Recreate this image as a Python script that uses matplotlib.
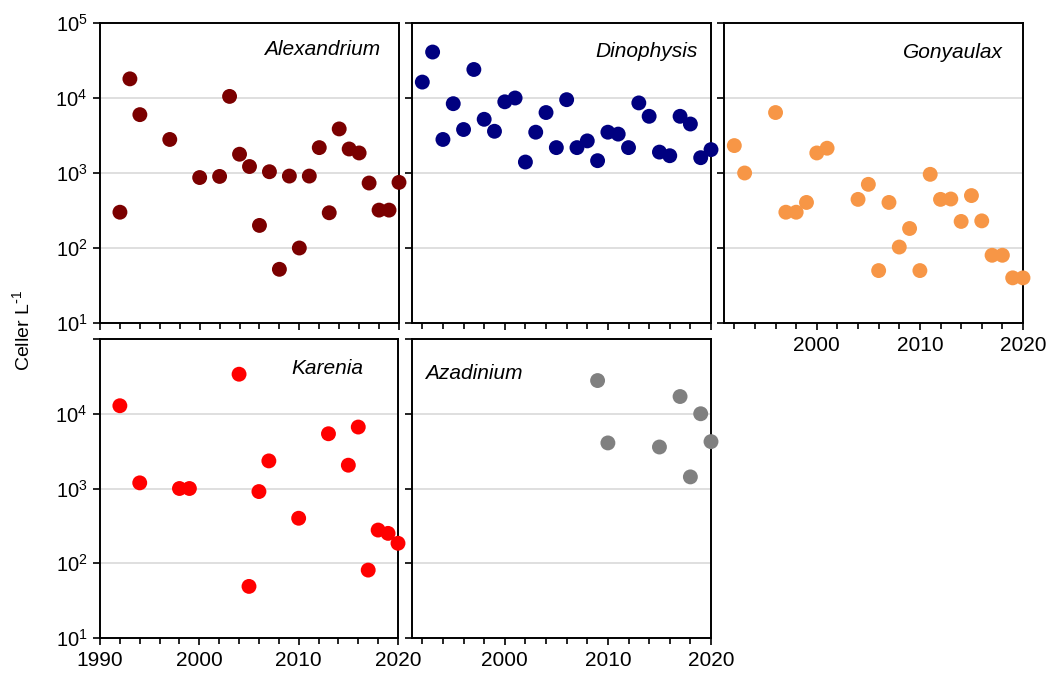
import matplotlib
matplotlib.use("Agg")
import matplotlib.pyplot as plt
from matplotlib.ticker import FixedLocator, MultipleLocator, NullFormatter, FuncFormatter

plt.rcParams['font.family'] = ['Liberation Sans', 'DejaVu Sans']
plt.rcParams['mathtext.default'] = 'regular'

# --- Data (cells per litre, annual maxima) ---
alex_years = [1992, 1993, 1994, 1997, 2000, 2002, 2003, 2004, 2005, 2006, 2007, 2008,
              2009, 2010, 2011, 2012, 2013, 2014, 2015, 2016, 2017, 2018, 2019, 2020]
alex_vals = [300, 18000, 6000, 2800, 870, 900, 10500, 1780, 1220, 200, 1040, 52,
             910, 100, 910, 2180, 295, 3870, 2090, 1850, 735, 320, 320, 750]

dino_years = [1992, 1993, 1994, 1995, 1996, 1997, 1998, 1999, 2000, 2001, 2002, 2003,
              2004, 2005, 2006, 2007, 2008, 2009, 2010, 2011, 2012, 2013, 2014, 2015,
              2016, 2017, 2018, 2019, 2020]
dino_vals = [16300, 41000, 2800, 8400, 3800, 24000, 5200, 3600, 8900, 10000, 1400, 3500,
             6400, 2180, 9500, 2180, 2680, 1460, 3500, 3300, 2180, 8600, 5700, 1900,
             1700, 5700, 4500, 1600, 2050]

gony_years = [1992, 1993, 1996, 1997, 1998, 1999, 2000, 2001, 2004, 2005, 2006, 2007,
              2008, 2009, 2010, 2011, 2012, 2013, 2014, 2015, 2016, 2017, 2018, 2019, 2020]
gony_vals = [2320, 1000, 6400, 300, 300, 405, 1850, 2140, 445, 706, 50, 405,
             103, 182, 50, 960, 445, 450, 226, 500, 230, 80, 80, 40, 40]

kare_years = [1992, 1994, 1998, 1999, 2004, 2005, 2006, 2007, 2010, 2013, 2015, 2016,
              2017, 2018, 2019, 2020]
kare_vals = [12800, 1190, 1000, 1000, 33800, 49, 910, 2340, 400, 5400, 2050, 6640,
             81, 278, 251, 185]

azad_years = [2009, 2010, 2015, 2017, 2018, 2019, 2020]
azad_vals = [27800, 4070, 3590, 17000, 1430, 10000, 4240]

W, H = 1047, 675
fig = plt.figure(figsize=(W / 100, H / 100), dpi=100)


def add_panel(x0, y0, x1, y1):
    return fig.add_axes([x0 / W, 1 - y1 / H, (x1 - x0) / W, (y1 - y0) / H])


panels = [
    # name, years, values, colour, pixel box, xlim start, label (x, y, ha), x labels, y labels
    ("Alexandrium", alex_years, alex_vals, "#7B0000", (100, 23, 399, 323), 1990,
     (0.936, 0.913, 'right'), False, [1, 2, 3, 4, 5]),
    ("Dinophysis", dino_years, dino_vals, "#000080", (412, 23, 711, 323), 1991,
     (0.957, 0.905, 'right'), False, None),
    ("Gonyaulax", gony_years, gony_vals, "#F79646", (724, 23, 1023, 323), 1991,
     (0.933, 0.90, 'right'), True, None),
    ("Karenia", kare_years, kare_vals, "#FF0000", (100, 339, 398, 638), 1990,
     (0.883, 0.903, 'right'), True, [1, 2, 3, 4]),
    ("Azadinium", azad_years, azad_vals, "#808080", (412, 339, 711, 638), 1991,
     (0.043, 0.886, 'left'), True, None),
]

for name, yrs, vals, col, box, xstart, lbl, xlab, ylab in panels:
    ax = add_panel(*box)
    ax.set_yscale('log')
    ax.set_ylim(10, 1e5)
    ax.set_xlim(xstart, 2020)
    ax.scatter(yrs, vals, s=115, color=col, edgecolors='none', zorder=5, clip_on=False)

    ax.set_yticks([10, 100, 1e3, 1e4, 1e5])
    ax.yaxis.set_minor_locator(FixedLocator([]))
    if ylab:
        ax.set_yticklabels([r'$10^{%d}$' % e if e in ylab else '' for e in [1, 2, 3, 4, 5]])
    else:
        ax.set_yticklabels([])
    ax.grid(axis='y', which='major', color='#D9D9D9', linewidth=1.2, zorder=0)

    ax.xaxis.set_major_locator(MultipleLocator(10))
    ax.xaxis.set_minor_locator(MultipleLocator(2))
    if xlab:
        ax.xaxis.set_major_formatter(FuncFormatter(lambda v, p: '%d' % v))
    else:
        ax.xaxis.set_major_formatter(NullFormatter())

    ax.tick_params(axis='both', which='both', direction='out', width=1.2, pad=4)
    ax.tick_params(axis='x', labelsize=15)
    ax.tick_params(axis='y', labelsize=14.5)
    ax.tick_params(axis='both', which='major', length=5)
    ax.tick_params(axis='x', which='minor', length=4)
    for sp in ax.spines.values():
        sp.set_linewidth(1.4)
        sp.set_color('black')
    ax.set_axisbelow(True)

    ax.text(lbl[0], lbl[1], name, transform=ax.transAxes, ha=lbl[2], va='center',
            fontsize=15, style='italic')

fig.text(22 / W, 1 - 330 / H, r'Celler L$^{\text{-}1}$', rotation=90, ha='center',
         va='center', fontsize=14)

fig.savefig("out.png", dpi=100)
